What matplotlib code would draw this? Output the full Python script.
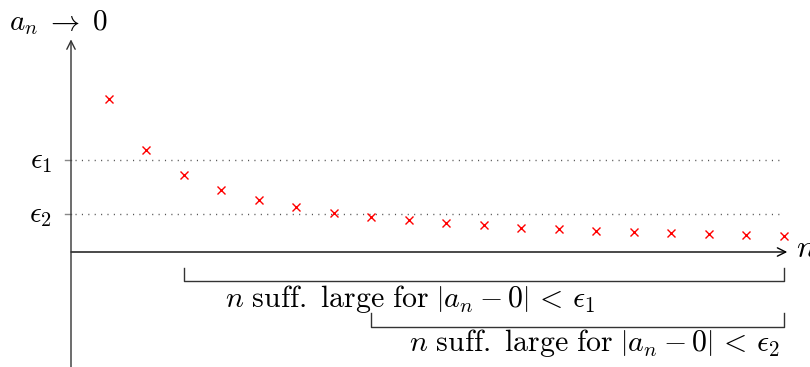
import numpy as np
import matplotlib
matplotlib.use("Agg")
import matplotlib.pyplot as plt

plt.rcParams['mathtext.fontset'] = 'cm'

# sequence terms a_n, n = 1..19
n_vals = np.arange(1, 20)
a_vals = [4.08, 2.72, 2.05, 1.65, 1.39, 1.20, 1.04, 0.93, 0.85, 0.77,
          0.72, 0.65, 0.61, 0.56, 0.53, 0.51, 0.48, 0.45, 0.43]

# tolerance levels and the first n that works for each
eps_vals = [2.45, 1.01]
eps_labels = [r'$\epsilon_1$', r'$\epsilon_2$']
n_start = [3, 8]
n_end = 19
bracket_text = [r'$n\ \mathrm{suff.\ large\ for}\ \left|a_n - 0\right|\, <\, \epsilon_1$',
                r'$n\ \mathrm{suff.\ large\ for}\ \left|a_n - 0\right|\, <\, \epsilon_2$']

fig = plt.figure(figsize=(8.1, 3.67), dpi=100)
ax = fig.add_axes([0, 0, 1, 1])
ax.set_xlim(-71 / 37.5, (810 - 71) / 37.5)
ax.set_ylim(-115 / 37.5, 252 / 37.5)
ax.axis('off')

# axes with arrow heads
arrow = dict(arrowstyle='->,head_length=0.5,head_width=0.25', lw=1.0,
             mutation_scale=12, shrinkA=0, shrinkB=0)
ax.annotate('', xy=(19.1, 0), xytext=(0, 0),
            arrowprops=dict(color='black', **arrow))
ax.annotate('', xy=(0, 5.67), xytext=(0, -3.1),
            arrowprops=dict(color='#333333', **arrow))
ax.text(19.32, 0.1, r'$n$', fontsize=23, ha='left', va='center')
ax.text(-0.35, 6.12, r'$a_n\;\to\;0$', fontsize=21, ha='center', va='center')

# epsilon levels
for e, lab in zip(eps_vals, eps_labels):
    ax.plot([0.1, n_end], [e, e], color='#555555', lw=1.0,
            linestyle=(0, (0.8, 3.8)))
    ax.plot([-0.16, 0], [e, e], color='#888888', lw=1.0)
    ax.text(-0.5, e - 0.02, lab, fontsize=21, ha='right', va='center')

ax.plot(n_vals, a_vals, linestyle='none', marker='x', color='red',
        markersize=6, markeredgewidth=1.0)

# brackets under the n axis
br_top = [-0.43, -1.63]
br_bot = [-0.78, -2.0]
txt_x = [9.04, 13.95]
txt_y = [-1.26, -2.43]
for i in range(2):
    ax.plot([n_start[i], n_start[i], n_end, n_end],
            [br_top[i], br_bot[i], br_bot[i], br_top[i]],
            color='#333333', lw=1.0)
    ax.text(txt_x[i], txt_y[i], bracket_text[i], fontsize=21.5,
            ha='center', va='center')

fig.savefig('out.png', dpi=100)
